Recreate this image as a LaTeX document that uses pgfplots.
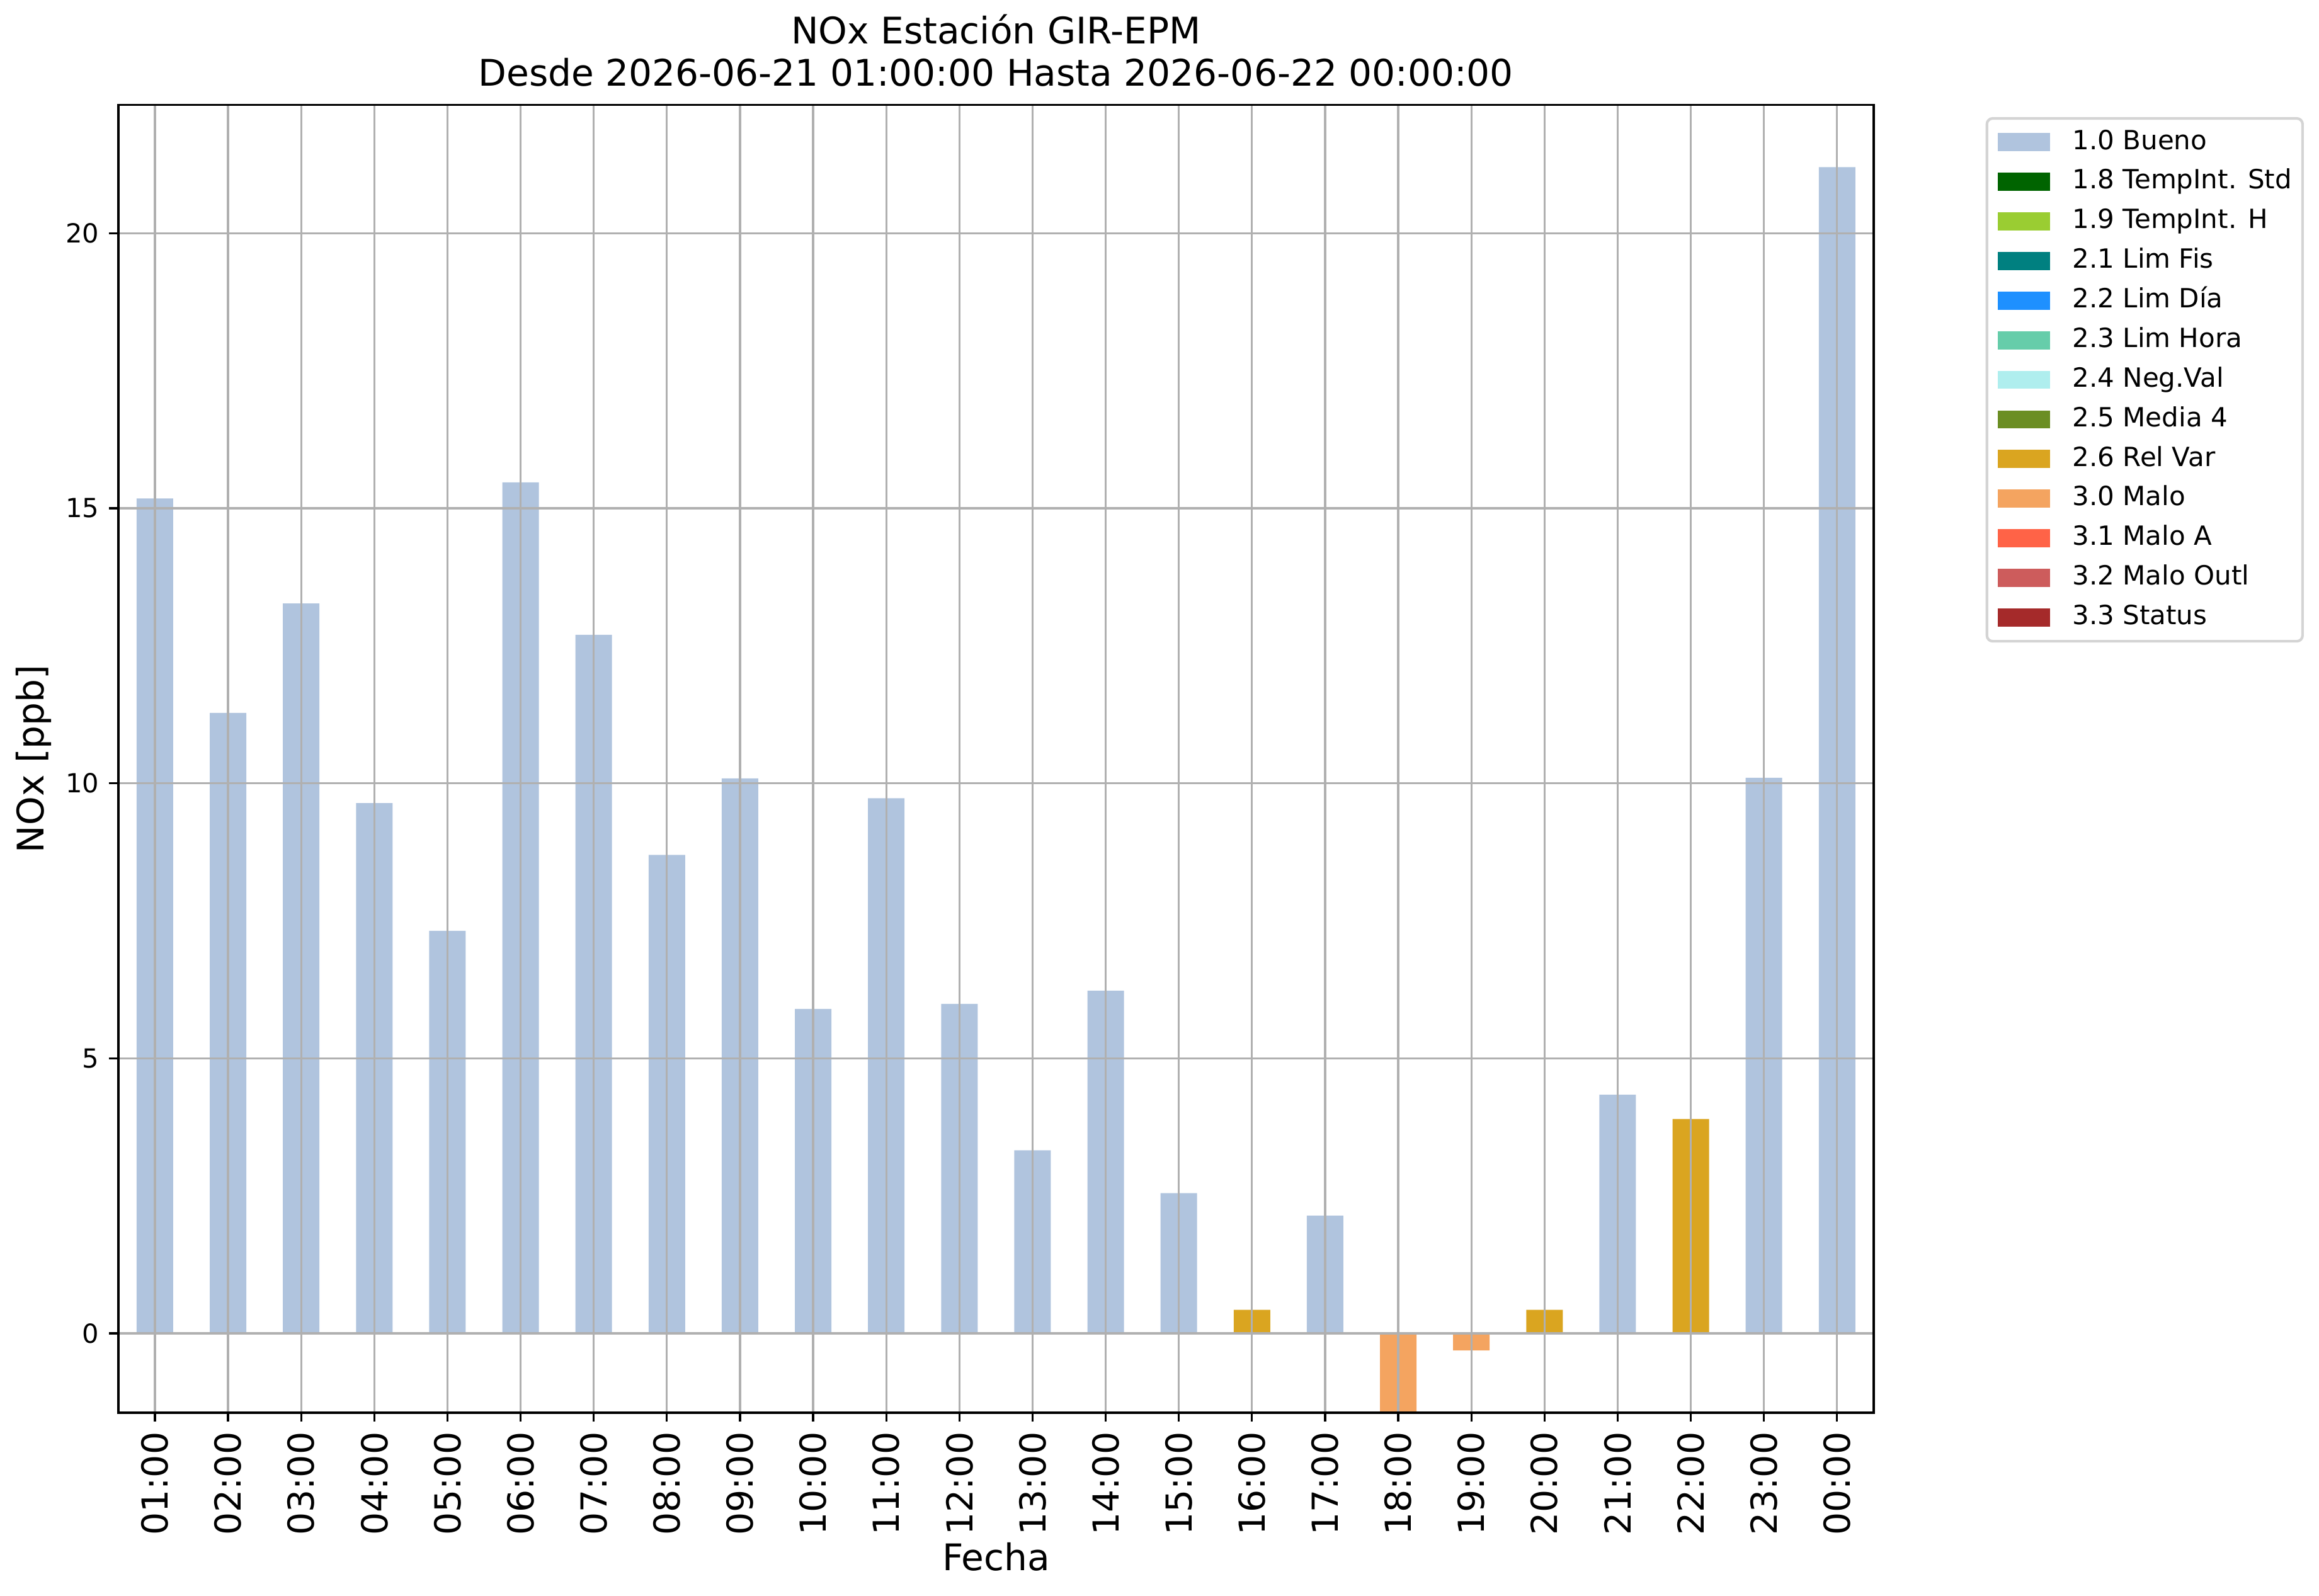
\documentclass[border=0pt]{standalone}
\usepackage{fontspec}
\setmainfont{DejaVu Sans}
\usepackage{pgfplots}
\pgfplotsset{compat=1.18}
\definecolor{cA}{HTML}{B0C4DE}
\definecolor{cB}{HTML}{006400}
\definecolor{cC}{HTML}{9ACD32}
\definecolor{cD}{HTML}{008080}
\definecolor{cE}{HTML}{1E90FF}
\definecolor{cF}{HTML}{66CDAA}
\definecolor{cG}{HTML}{AFEEEE}
\definecolor{cH}{HTML}{6B8E23}
\definecolor{cI}{HTML}{DAA520}
\definecolor{cJ}{HTML}{F4A460}
\definecolor{cK}{HTML}{FF6347}
\definecolor{cL}{HTML}{CD5C5C}
\definecolor{cM}{HTML}{A52A2A}
\definecolor{gridgray}{HTML}{B0B0B0}
\definecolor{legendgray}{HTML}{D4D4D4}
\begin{document}
\begin{tikzpicture}
\useasboundingbox (-41.0pt,-63.5pt) rectangle (762.4pt,489.4pt);
\begin{axis}[
  at={(0,0)}, anchor=south west,
  scale only axis, width=608.1pt, height=453.0pt,
  xmin=-0.5, xmax=23.5, ymin=-1.44, ymax=22.33,
  xtick={0,1,2,3,4,5,6,7,8,9,10,11,12,13,14,15,16,17,18,19,20,21,22,23},
  xticklabels={01:00,02:00,03:00,04:00,05:00,06:00,07:00,08:00,09:00,10:00,11:00,12:00,13:00,14:00,15:00,16:00,17:00,18:00,19:00,20:00,21:00,22:00,23:00,00:00},
  ytick={0,5,10,15,20},
  grid=major, grid style={color=gridgray, line width=0.73pt},
  axis line style={line width=0.73pt},
  axis on top,
  tick align=outside, major tick length=3.18pt,
  tick style={black, line width=0.73pt},
  xtick pos=left, ytick pos=left,
  /pgf/number format/assume math mode=true,
  xticklabel style={rotate=90, anchor=east, font=\fontsize{12.4}{14}\selectfont},
  yticklabel style={font=\fontsize{9.1}{11}\selectfont},
  title={NOx Estación GIR-EPM\\Desde 2026-06-21 01:00:00 Hasta 2026-06-22 00:00:00},
  title style={at={(0.5,1)}, anchor=south, yshift=0.2pt, inner sep=0pt, align=center, font=\fontsize{12.7}{14.7}\selectfont},
  xlabel={Fecha},
  xlabel style={at={(axis description cs:0.5,0)}, anchor=center, yshift=-50pt, font=\fontsize{12.7}{14}\selectfont},
  ylabel={NOx [ppb]},
  ylabel style={at={(axis description cs:-0.04835,0.5)}, anchor=center, font=\fontsize{12.7}{14}\selectfont},
  legend cell align=left,
  legend style={at={(1.0638,0.9908)}, anchor=north west, draw=legendgray, line width=0.91pt,
    rounded corners=2pt, fill=white, font=\fontsize{9.16}{11}\selectfont,
    inner xsep=3.7pt, inner ysep=4pt, row sep=5.22pt, column sep=7.85pt,
    nodes={inner sep=0pt, text height=6.7pt, text depth=1.8pt}},
  legend image code/.code={\fill[#1, sharp corners] (0pt,-3.13pt) rectangle (18.1pt,3.13pt);},
]
\addlegendimage{fill=cA, draw=none}\addlegendentry{1.0 Bueno}
\addlegendimage{fill=cB, draw=none}\addlegendentry{1.8 TempInt. Std}
\addlegendimage{fill=cC, draw=none}\addlegendentry{1.9 TempInt. H}
\addlegendimage{fill=cD, draw=none}\addlegendentry{2.1 Lim Fis}
\addlegendimage{fill=cE, draw=none}\addlegendentry{2.2 Lim Día}
\addlegendimage{fill=cF, draw=none}\addlegendentry{2.3 Lim Hora}
\addlegendimage{fill=cG, draw=none}\addlegendentry{2.4 Neg.Val}
\addlegendimage{fill=cH, draw=none}\addlegendentry{2.5 Media 4}
\addlegendimage{fill=cI, draw=none}\addlegendentry{2.6 Rel Var}
\addlegendimage{fill=cJ, draw=none}\addlegendentry{3.0 Malo}
\addlegendimage{fill=cK, draw=none}\addlegendentry{3.1 Malo A}
\addlegendimage{fill=cL, draw=none}\addlegendentry{3.2 Malo Outl}
\addlegendimage{fill=cM, draw=none}\addlegendentry{3.3 Status}
\addplot[ybar, bar width=0.5, bar shift=0pt, fill=cA, draw=none, forget plot] coordinates {
(0,15.18) (1,11.28) (2,13.27) (3,9.64) (4,7.32) (5,15.47) (6,12.70) (7,8.70) (8,10.09) (9,5.90) (10,9.73) (11,5.99) (12,3.33) (13,6.23) (14,2.55) (16,2.14) (20,4.34) (22,10.10) (23,21.20)};
\addplot[ybar, bar width=0.5, bar shift=0pt, fill=cI, draw=none, forget plot] coordinates {
(15,0.43) (19,0.43) (21,3.90)};
\addplot[ybar, bar width=0.5, bar shift=0pt, fill=cJ, draw=none, forget plot] coordinates {
(17,-1.60) (18,-0.31)};
\end{axis}
\end{tikzpicture}
\end{document}
